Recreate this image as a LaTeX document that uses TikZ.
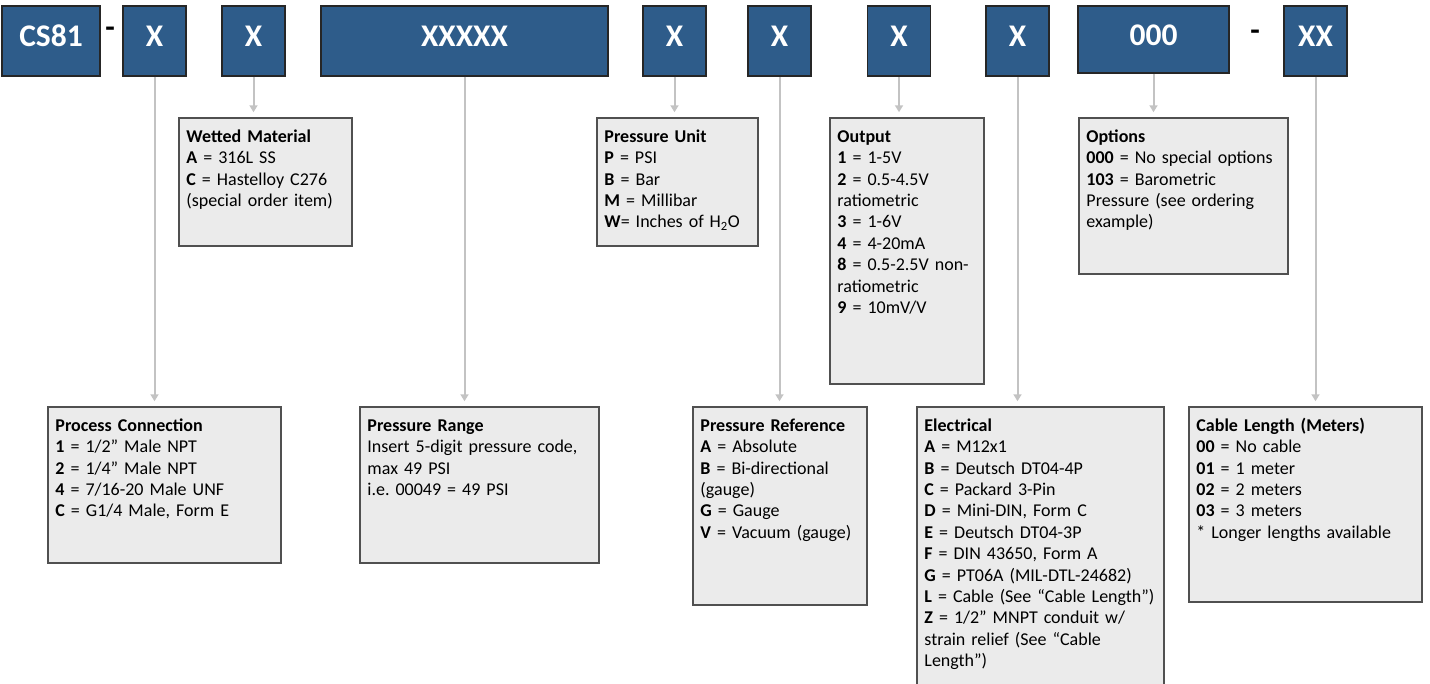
\documentclass[tikz,border=0pt]{standalone}
\usepackage{fontspec}
\setmainfont{Carlito}
\frenchspacing
\usepackage{tikz}
\usetikzlibrary{
  positioning,
  arrows.meta
}
\definecolor{codeblue}{RGB}{46,92,138}
\definecolor{descgray}{RGB}{235,235,235}
\definecolor{bordergray}{RGB}{80,80,80}
\definecolor{leadgray}{RGB}{195,195,195}

\begin{document}
\begin{tikzpicture}[x=1pt,y=-1pt,
    code/.style={draw=black!85,line width=1.5pt,fill=codeblue,text=white,
      font=\fontsize{31.5}{36}\selectfont\bfseries,minimum height=70pt,text depth=10pt,inner sep=0pt},
    sep/.style={font=\fontsize{31}{36}\selectfont\bfseries,inner sep=0pt},
    desc/.style={draw=bordergray,line width=1.5pt,fill=descgray,inner sep=0pt},
    desctext/.style={anchor=base west,align=left,inner sep=0pt,
      font=\fontsize{18}{21.4}\selectfont},
    lead/.style={draw=leadgray,line width=2pt,shorten >=5pt,-{Triangle[length=7pt,width=8pt]}}]
    \useasboundingbox (0,0) rectangle (1430,683);
    \node[code,minimum width=98pt] (cs) at (51,41) {CS81};
    \foreach \n/\x in {conn/154.5,wet/253.5,unit/674.5,ref/779.5,out/899,elec/1017.5}
        \node[code,minimum width=63pt] (\n) at (\x,41) {X};
    \node[code,minimum width=287pt] (range) at (464.5,41) {XXXXX};
    \node[code,minimum width=151pt,minimum height=67pt,text depth=8.5pt] (opt) at (1153.5,39.5) {000};
    \node[code,minimum width=63pt] (cable) at (1315.5,41) {XX};
    \node[sep] (dash1) at (110,32) {-};
    \node[sep] (dash2) at (1255,35) {-};

    \node[desc,minimum width=173pt,minimum height=128pt] (wetbox) at (265.5,182) {};
    \node[desc,minimum width=161pt,minimum height=128pt] (unitbox) at (677.5,182) {};
    \node[desc,minimum width=154pt,minimum height=266pt] (outbox) at (907,251) {};
    \node[desc,minimum width=209pt,minimum height=156pt] (optbox) at (1183.5,196) {};
    \node[desc,minimum width=233pt,minimum height=156pt] (connbox) at (164.5,485) {};
    \node[desc,minimum width=239pt,minimum height=156pt] (rangebox) at (479.5,485) {};
    \node[desc,minimum width=174pt,minimum height=198pt] (refbox) at (780,506) {};
    \node[desc,minimum width=247pt,minimum height=293pt] (elecbox) at (1040.5,553.5) {};
    \node[desc,minimum width=233pt,minimum height=195pt] (cablebox) at (1305.5,504.5) {};

    \node[desctext,text width=165pt] (wettext) at ([xshift=8pt,yshift=-25pt]wetbox.north west)
        {\textbf{Wetted Material}\\ \textbf{A} = 316L SS\\ \textbf{C} = Hastelloy C276\\ (special order item)};
    \node[desctext,text width=153pt] (unittext) at ([xshift=8pt,yshift=-25pt]unitbox.north west)
        {\textbf{Pressure Unit}\\ \textbf{P} = PSI\\ \textbf{B} = Bar\\ \textbf{M} = Millibar\\ \textbf{W}= Inches of H\textsubscript{2}O};
    \node[desctext,text width=146pt] (outtext) at ([xshift=8pt,yshift=-25pt]outbox.north west)
        {\textbf{Output}\\ \textbf{1} = 1-5V\\ \textbf{2} = 0.5-4.5V\\ ratiometric\\ \textbf{3} = 1-6V\\ \textbf{4} = 4-20mA\\
         \textbf{8} = 0.5-2.5V non-\\ ratiometric\\ \textbf{9} = 10mV/V};
    \node[desctext,text width=201pt] (opttext) at ([xshift=8pt,yshift=-25pt]optbox.north west)
        {\textbf{Options}\\ \textbf{000} = No special options\\ \textbf{103} = Barometric\\ Pressure (see ordering\\ example)};
    \node[desctext,text width=225pt] (conntext) at ([xshift=8pt,yshift=-25pt]connbox.north west)
        {\textbf{Process Connection}\\ \textbf{1} = 1/2” Male NPT\\ \textbf{2} = 1/4” Male NPT\\ \textbf{4} = 7/16-20 Male UNF\\ \textbf{C} = G1/4 Male, Form E};
    \node[desctext,text width=231pt] (rangetext) at ([xshift=8pt,yshift=-25pt]rangebox.north west)
        {\textbf{Pressure Range}\\ Insert 5-digit pressure code,\\ max 49 PSI\\ i.e. 00049 = 49 PSI};
    \node[desctext,text width=166pt] (reftext) at ([xshift=8pt,yshift=-25pt]refbox.north west)
        {\textbf{Pressure Reference}\\ \textbf{A} = Absolute\\ \textbf{B} = Bi-directional\\ (gauge)\\ \textbf{G} = Gauge\\ \textbf{V} = Vacuum (gauge)};
    \node[desctext,text width=239pt] (electext) at ([xshift=8pt,yshift=-25pt]elecbox.north west)
        {\textbf{Electrical}\\ \textbf{A} = M12x1\\ \textbf{B} = Deutsch DT04-4P\\ \textbf{C} = Packard 3-Pin\\ \textbf{D} = Mini-DIN, Form C\\
         \textbf{E} = Deutsch DT04-3P\\ \textbf{F} = DIN 43650, Form A\\ \textbf{G} = PT06A (MIL-DTL-24682)\\
         \textbf{L} = Cable (See “Cable Length”)\\ \textbf{Z} = 1/2” MNPT conduit w/\\ strain relief (See “Cable\\ Length”)};
    \node[desctext,text width=225pt] (cabletext) at ([xshift=8pt,yshift=-25pt]cablebox.north west)
        {\textbf{Cable Length (Meters)}\\ \textbf{00} = No cable\\ \textbf{01} = 1 meter\\ \textbf{02} = 2 meters\\ \textbf{03} = 3 meters\\ {*} Longer lengths available};

    \draw[lead] (conn.south) -- (conn.south |- connbox.north);
    \draw[lead] (wet.south) -- (wet.south |- wetbox.north);
    \draw[lead] (range.south) -- (range.south |- rangebox.north);
    \draw[lead] (unit.south) -- (unit.south |- unitbox.north);
    \draw[lead] (ref.south) -- (ref.south |- refbox.north);
    \draw[lead] (out.south) -- (out.south |- outbox.north);
    \draw[lead] (elec.south) -- (elec.south |- elecbox.north);
    \draw[lead] (opt.south) -- (opt.south |- optbox.north);
    \draw[lead] (cable.south) -- (cable.south |- cablebox.north);
\end{tikzpicture}
\end{document}
